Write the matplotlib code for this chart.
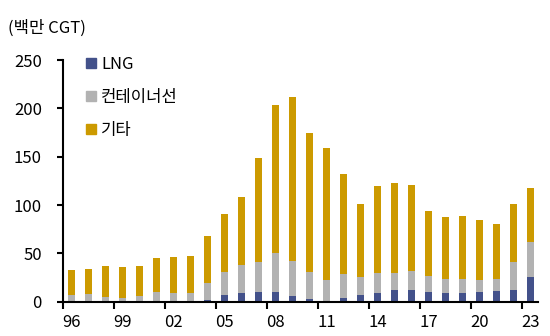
import numpy as np
import matplotlib
matplotlib.use('Agg')
import matplotlib.pyplot as plt
from matplotlib.lines import Line2D

plt.rcParams['font.family'] = ['Noto Sans CJK KR', 'DejaVu Sans']

# ── data (백만 CGT) ────────────────────────────────────────────────────────────
years = list(range(1996, 2024))
lng = [0.0, 0.0, 0.0, 0.0, 0.0, 0.0, 0.0, 0.0, 2.1, 6.9,
       9.3, 10.3, 10.0, 5.9, 2.8, 0.5, 4.2, 6.6, 9.3, 12.1,
       12.1, 10.0, 8.6, 9.3, 10.3, 11.4, 12.4, 25.5]
container = [6.6, 7.6, 5.2, 4.2, 5.9, 9.7, 9.0, 9.0, 16.9, 23.8,
             28.6, 31.0, 40.3, 36.5, 27.9, 21.9, 24.1, 19.3, 20.7, 17.9,
             19.9, 16.5, 14.8, 14.1, 12.1, 12.0, 28.6, 35.9]
other = [26.1, 26.2, 31.7, 32.0, 31.3, 35.4, 36.8, 37.9, 49.2, 59.9,
         70.6, 107.5, 153.6, 169.1, 144.3, 136.4, 104.3, 75.7, 89.9, 93.3,
         88.6, 67.2, 64.4, 65.1, 62.0, 56.9, 60.2, 56.4]
series_labels = ['LNG', '컨테이너선', '기타']
series_colors = ['#43518A', '#B2B2B2', '#CC9A00']

# ── figure ────────────────────────────────────────────────────────────────────
fig = plt.figure(figsize=(5.5, 3.36), dpi=100)
ax = fig.add_axes([0.114, 0.102, 0.864, 0.719])

x = np.arange(len(years))
bottom = np.zeros(len(years))
for vals, c in zip([lng, container, other], series_colors):
    ax.bar(x, vals, width=0.41, bottom=bottom, color=c, linewidth=0)
    bottom += np.array(vals)

ax.set_xlim(-0.53, len(years) - 0.57)
ax.set_ylim(0, 250)
ax.set_yticks(range(0, 251, 50))

# labels on every third year, tick marks on the category boundaries
ax.set_xticks(x[::3])
ax.set_xticklabels([f'{y % 100:02d}' for y in years[::3]])
ax.set_xticks(x[::3] - 0.5, minor=True)
ax.tick_params(axis='x', which='major', length=0, pad=9, labelsize=12)
ax.tick_params(axis='x', which='minor', length=5, width=1.5, direction='out')
ax.tick_params(axis='y', length=4, width=1.5, pad=11, labelsize=12)

for s in ['top', 'right']:
    ax.spines[s].set_visible(False)
for s in ['left', 'bottom']:
    ax.spines[s].set_linewidth(1.5)

handles = [Line2D([], [], marker='s', linestyle='none', markersize=7,
                  markerfacecolor=c, markeredgecolor=c) for c in series_colors]
ax.legend(handles, series_labels, loc='upper left', bbox_to_anchor=(0.035, 1.045),
          frameon=False, fontsize=12, handlelength=0.6, handletextpad=0.3,
          labelspacing=0.95, borderaxespad=0)

fig.text(0.014, 0.915, '(백만 CGT)', fontsize=12, va='center')

fig.savefig('out.png', dpi=100)
